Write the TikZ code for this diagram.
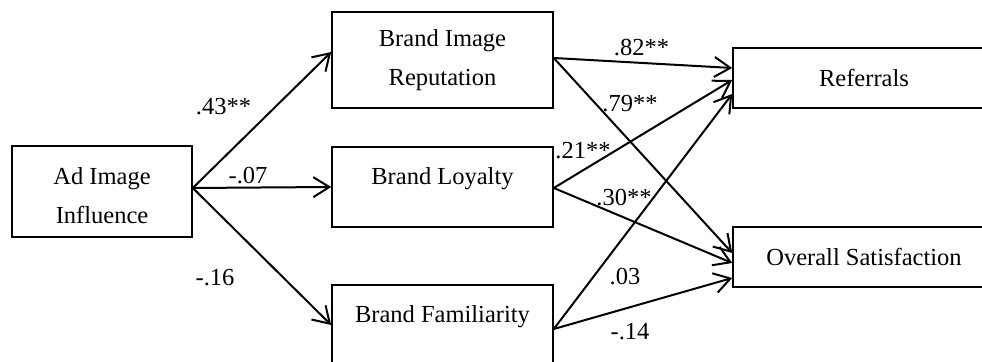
\documentclass[tikz,border=0pt]{standalone}
\usepackage{fontspec}
\setmainfont{Liberation Serif}
\usetikzlibrary{arrows.meta}
\begin{document}
\begin{tikzpicture}[x=0.5pt,y=-0.5pt,
  box/.style={draw, line width=0.8pt, inner sep=0pt},
  boxtext/.style={font=\fontsize{12.25}{19.5}\selectfont, align=center, inner sep=0pt},
  conn/.style={line width=1pt, -{Straight Barb[length=8pt,width=10pt,line width=1pt]}},
  coef/.style={font=\fontsize{12.25}{14}\selectfont, anchor=base, inner sep=0pt}]
\useasboundingbox (0,0) rectangle (982,362);

% boxes
\node[box, minimum width=90pt, minimum height=45.5pt,
  label={[boxtext, yshift=-2pt]center:Ad Image\\Influence}] (ad) at (102,191.5) {};
\node[box, minimum width=110.5pt, minimum height=48pt,
  label={[boxtext]center:Brand Image\\Reputation}] (bir) at (442.5,60) {};
\node[box, minimum width=110.5pt, minimum height=40pt,
  label={[boxtext, yshift=4pt]center:Brand Loyalty}] (bl) at (442.5,187) {};
\node[box, minimum width=110.5pt, minimum height=47.5pt,
  label={[boxtext, yshift=7.75pt]center:Brand Familiarity}] (bf) at (442.5,332.5) {};
\node[box, minimum width=131pt, minimum height=30pt,
  label={[boxtext]center:Referrals}] (ref) at (864,78) {};
\node[box, minimum width=131pt, minimum height=30pt,
  label={[boxtext]center:Overall Satisfaction}] (os) at (864,257) {};

% connectors
\draw[conn] ([yshift=1.75pt]ad.east) -- ([yshift=4pt]bir.west);
\draw[conn] ([yshift=1.75pt]ad.east) -- (bl.west);
\draw[conn] ([yshift=1.75pt]ad.east) -- ([yshift=3.75pt]bf.west);

\draw[conn] ([yshift=1pt]bir.east) -- ([yshift=5pt]ref.west);
\draw[conn] ([yshift=1pt]bir.east) -- ([yshift=2pt]os.west);
\draw[conn] ([yshift=-0.5pt]bl.east) -- ([yshift=-1pt]ref.west);
\draw[conn] ([yshift=-0.5pt]bl.east) -- ([yshift=-3pt]os.west);
\draw[conn] ([yshift=1.75pt]bf.east) -- ([yshift=-8pt]ref.west);
\draw[conn] ([yshift=1.75pt]bf.east) -- ([yshift=-10.5pt]os.west);

% coefficients
\node[coef] (c1) at (223.5,115) {.43**};
\node[coef] (c2) at (248,184) {-.07};
\node[coef] (c3) at (215,286) {-.16};
\node[coef] (c4) at (641.5,56) {.82**};
\node[coef] (c5) at (630,112) {.79**};
\node[coef] (c6) at (583,159) {.21**};
\node[coef] (c7) at (624,206) {.30**};
\node[coef] (c8) at (625,285) {.03};
\node[coef] (c9) at (630,340) {-.14};
\end{tikzpicture}
\end{document}
